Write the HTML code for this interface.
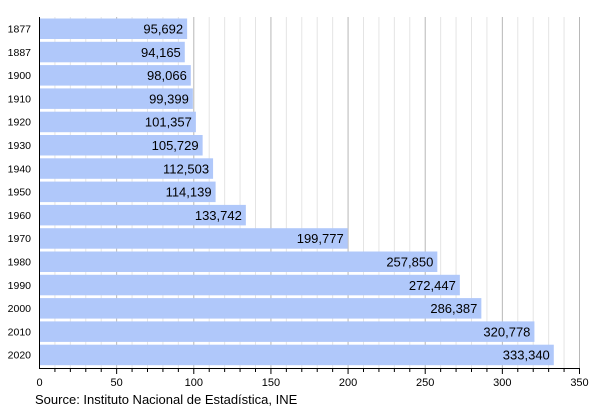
<!DOCTYPE html><html><head><style>body{margin:0;background:#fff}</style></head><body>
<svg width="600" height="408" xmlns="http://www.w3.org/2000/svg" font-family="Liberation Sans, sans-serif">
<g id="grid"></g>
<g id="bars"></g>
<line x1="39.5" y1="17" x2="39.5" y2="369" stroke="#000" stroke-width="1"/>
<line x1="39.5" y1="368.5" x2="580" y2="368.5" stroke="#000" stroke-width="1"/>
<g id="ticks"></g>
<text x="35" y="404" font-size="13" fill="#000">Source: Instituto Nacional de Estadística, INE</text>
<script>
var ns="http://www.w3.org/2000/svg",x0=39.5,s=540/350;
function el(p,t,a,txt){var e=document.createElementNS(ns,t);for(var k in a)e.setAttribute(k,a[k]);if(txt)e.textContent=txt;document.getElementById(p).appendChild(e);}
for(var v=10;v<=350;v+=10){var x=x0+v*s;el("grid","line",{x1:x,x2:x,y1:17,y2:368,stroke:v%50?"#e4e4e4":"#b8b8b8","stroke-width":1});
el("ticks","line",{x1:x,x2:x,y1:368,y2:v%50?372:374,stroke:"#000"});}
for(var v=0;v<=350;v+=50)el("ticks","text",{x:x0+v*s,y:386,"font-size":11,"text-anchor":"middle"},""+v);
var d=[["1877",95.692],["1887",94.165],["1900",98.066],["1910",99.399],["1920",101.357],["1930",105.729],["1940",112.503],["1950",114.139],["1960",133.742],["1970",199.777],["1980",257.850],["1990",272.447],["2000",286.387],["2010",320.778],["2020",333.340]];
d.forEach(function(r,i){var y=18.5+i*23.3,w=r[1]*s;
el("bars","rect",{x:x0,y:y,width:w,height:20.5,fill:"#b0c8fa"});
el("bars","text",{x:x0+w-4,y:y+15,"font-size":13,"text-anchor":"end"},r[1].toFixed(3).replace(".",","));
el("bars","text",{x:31,y:y+14,"font-size":10.5,"text-anchor":"end"},r[0]);});
</script>
</svg></body></html>
